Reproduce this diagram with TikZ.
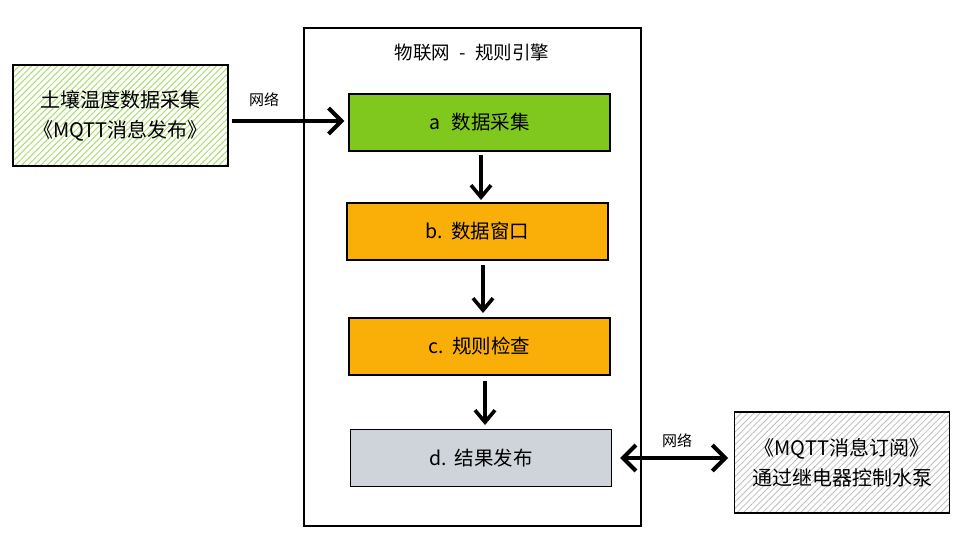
\documentclass[tikz,border=0pt]{standalone}
\usepackage{fontspec}
\setmainfont{Noto Sans CJK SC}
\usetikzlibrary{arrows.meta,patterns.meta}
\definecolor{agreen}{RGB}{128,200,30}
\definecolor{aorange}{RGB}{249,174,8}
\definecolor{agray}{RGB}{206,212,218}
\definecolor{hgreen}{RGB}{170,220,110}
\definecolor{hgray}{RGB}{190,190,190}
\tikzset{
  stepbox/.style={draw=black, line width=1.3pt, minimum width=261pt, minimum height=57pt, font=\fontsize{19.5}{22}\selectfont, inner sep=0pt},
  sidebox/.style={draw=black, line width=1.3pt, minimum width=215pt, minimum height=101pt, align=center, font=\fontsize{20}{30}\selectfont, inner sep=0pt},
  varrow/.style={line width=4pt, -{Straight Barb[length=12pt,width=20pt,line width=3.6pt]}},
  harrow/.style={line width=4.5pt, -{Straight Barb[length=13pt,width=26pt,line width=4pt]}},
  darrow/.style={line width=4.5pt, {Straight Barb[length=13pt,width=26pt,line width=4pt]}-{Straight Barb[length=13pt,width=26pt,line width=4pt]}},
  lbl/.style={font=\fontsize{15}{17}\selectfont}
}
\begin{document}
\begin{tikzpicture}[x=1pt,y=-1pt]
\useasboundingbox[fill=white] (0,0) rectangle (962,556);
% outer frame
\node[draw=black, line width=1.3pt, minimum width=337pt, minimum height=498pt, inner sep=0pt] (frame) at (472.5,277) {};
\node[font=\fontsize{18.5}{20}\selectfont] (title) at (472,53) {物联网\hspace{0.5em}-\hspace{0.5em}规则引擎};
% steps
\node[stepbox, fill=agreen] (a) at (479.5,122.5) {a\hspace{0.6em}数据采集};
\node[stepbox, fill=aorange] (b) at (477.5,231.5) {b.\hspace{0.4em}数据窗口};
\node[stepbox, fill=aorange] (c) at (479.5,346.5) {c.\hspace{0.4em}规则检查};
\node[stepbox, fill=agray] (d) at (481,458) {d.\hspace{0.4em}结果发布};
% side boxes
\node[sidebox, fill=white, pattern={Lines[angle=45,distance=4.5pt,line width=1pt]}, pattern color=hgreen] (src0) at (120.5,115.5) {};
\node[sidebox, draw=none] (src) at (120.5,115.5) {土壤温度数据采集\\《MQTT消息发布》};
\node[sidebox, fill=white, pattern={Lines[angle=45,distance=4.5pt,line width=0.8pt]}, pattern color=hgray] (dst0) at (842,462.5) {};
\node[sidebox, draw=none] (dst) at (842,462.5) {《MQTT消息订阅》\\通过继电器控制水泵};
% connectors
\draw[harrow] (src0.east) ++(3,5.5) coordinate (s1) -- ([xshift=-4pt]a.west |- s1);
\node[lbl] (n1) at (264,100) {网络};
\draw[varrow] (481,155) -- (481,200);
\draw[varrow] (483,265) -- (483,313);
\draw[varrow] (485,381) -- (485,425);
\draw[darrow] ([xshift=8pt]d.east) -- ([xshift=-6pt]dst0.west |- d.east);
\node[lbl] (n2) at (677,441) {网络};
\end{tikzpicture}
\end{document}
